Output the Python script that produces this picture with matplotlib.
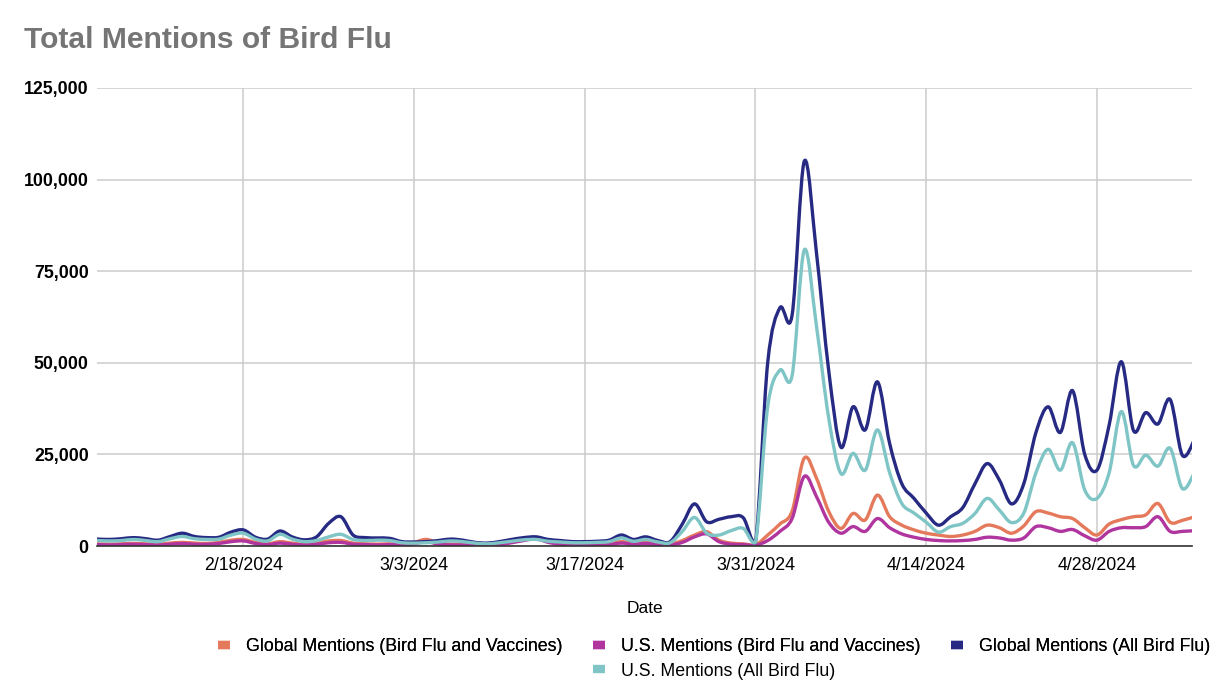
import numpy as np
import pandas as pd
import matplotlib
matplotlib.use("Agg")
import matplotlib.pyplot as plt
import matplotlib.dates as mdates
from matplotlib.path import Path
from matplotlib.patches import PathPatch
from matplotlib.lines import Line2D
from matplotlib.ticker import FuncFormatter

plt.rcParams['font.family'] = ['Liberation Sans', 'DejaVu Sans']

# daily values, 2/6/2024 .. 5/6/2024 (thousands of mentions)
dates = pd.date_range('2024-02-06', '2024-05-06', freq='D')

global_vacc = [0.6, 0.5, 0.6, 0.7, 0.6, 0.5, 0.8, 1.0, 0.8, 0.7,
               1.0, 1.6, 1.8, 1.0, 0.6, 1.2, 0.8, 0.5, 0.8, 1.4,
               1.5, 0.8, 0.6, 0.5, 0.6, 0.5, 1.0, 1.8, 0.8, 0.5,
               0.5, 0.4, 0.4, 0.6, 1.2, 1.8, 2.4, 1.4, 0.8, 0.5,
               0.4, 0.5, 0.6, 1.2, 0.8, 1.0, 0.6, 0.5, 1.5, 3.0,
               3.9, 1.6, 0.8, 0.6, 0.3, 3.0, 6.0, 9.5, 24.0, 18.5,
               9.5, 4.8, 8.9, 7.1, 13.9, 8.0, 5.7, 4.4, 3.5, 3.0,
               2.6, 3.0, 4.0, 5.7, 5.0, 3.5, 5.5, 9.4, 9.0, 8.0,
               7.5, 5.0, 3.0, 6.0, 7.2, 8.0, 8.5, 11.6, 6.5, 7.0,
               8.0]

us_vacc = [0.4, 0.3, 0.4, 0.5, 0.4, 0.3, 0.5, 0.7, 0.5, 0.5,
           0.7, 1.2, 1.4, 0.7, 0.4, 0.8, 0.5, 0.3, 0.5, 0.9,
           1.0, 0.5, 0.4, 0.3, 0.4, 0.3, 0.6, 1.2, 0.5, 0.3,
           0.3, 0.3, 0.3, 0.4, 0.9, 1.5, 2.0, 1.0, 0.5, 0.3,
           0.3, 0.3, 0.4, 0.8, 0.5, 0.7, 0.4, 0.3, 1.0, 2.5,
           3.3, 1.2, 0.5, 0.4, 0.2, 1.5, 4.0, 7.5, 19.0, 13.5,
           6.5, 3.5, 5.3, 4.0, 7.5, 5.0, 3.3, 2.4, 1.8, 1.5,
           1.4, 1.5, 1.8, 2.4, 2.2, 1.6, 2.2, 5.3, 5.0, 4.0,
           4.5, 2.8, 1.6, 4.0, 5.0, 5.0, 5.3, 8.0, 4.0, 4.0,
           4.2]

global_all = [1.9, 1.8, 2.0, 2.3, 2.0, 1.6, 2.6, 3.5, 2.6, 2.3,
              2.4, 3.8, 4.4, 2.4, 1.9, 4.1, 2.5, 1.7, 2.5, 6.2,
              8.0, 3.0, 2.3, 2.2, 2.1, 1.2, 1.1, 1.2, 1.5, 1.9,
              1.6, 1.0, 0.8, 1.2, 1.8, 2.3, 2.5, 1.8, 1.5, 1.2,
              1.2, 1.3, 1.6, 3.0, 1.8, 2.5, 1.5, 1.2, 6.0, 11.5,
              6.6, 7.3, 8.0, 7.7, 1.0, 50.0, 65.0, 63.0, 105.0, 80.0,
              48.0, 27.0, 38.0, 31.7, 44.8, 28.0, 17.0, 13.0, 9.0, 5.7,
              8.0, 10.5, 17.0, 22.5, 18.0, 11.5, 17.0, 31.0, 38.0, 31.0,
              42.4, 25.0, 20.7, 33.0, 50.3, 31.5, 36.4, 33.3, 40.0, 24.8,
              29.0]

us_all = [1.5, 1.4, 1.5, 1.8, 1.5, 1.2, 2.0, 2.6, 2.0, 1.8,
          1.9, 3.0, 3.5, 1.9, 1.4, 3.2, 1.9, 1.2, 1.5, 2.5,
          3.2, 1.8, 1.5, 1.6, 1.5, 0.9, 0.8, 0.9, 1.1, 1.4,
          1.2, 0.8, 0.6, 0.9, 1.3, 1.7, 1.8, 1.3, 1.1, 0.9,
          0.9, 1.0, 1.2, 2.2, 1.3, 1.8, 1.1, 0.9, 4.0, 7.8,
          3.5, 3.0, 4.2, 4.8, 1.0, 38.0, 48.0, 46.5, 80.8, 60.0,
          35.0, 19.8, 25.3, 20.7, 31.7, 20.0, 11.6, 9.0, 6.5, 3.8,
          5.3, 6.2, 8.9, 13.0, 9.8, 6.4, 9.0, 20.0, 26.4, 20.7,
          28.2, 15.3, 13.0, 20.0, 36.7, 22.0, 24.8, 21.8, 26.7, 15.7,
          20.0]

series = [
    ("Global Mentions (Bird Flu and Vaccines)", global_vacc, "#e5795c"),
    ("U.S. Mentions (Bird Flu and Vaccines)", us_vacc, "#b0359f"),
    ("Global Mentions (All Bird Flu)", global_all, "#272a83"),
    ("U.S. Mentions (All Bird Flu)", us_all, "#7fc5c6"),
]

tick_dates = ['2024-02-18', '2024-03-03', '2024-03-17', '2024-03-31', '2024-04-14', '2024-04-28']
tick_labels = ['2/18/2024', '3/3/2024', '3/17/2024', '3/31/2024', '4/14/2024', '4/28/2024']


def smooth_path(x, y):
    # catmull-rom style cubic bezier through every data point
    n = len(x)
    verts = [(x[0], y[0])]
    codes = [Path.MOVETO]
    for i in range(n - 1):
        x0, y0 = (x[i - 1], y[i - 1]) if i > 0 else (x[i], y[i])
        x3, y3 = (x[i + 2], y[i + 2]) if i + 2 < n else (x[i + 1], y[i + 1])
        c1 = (x[i] + (x[i + 1] - x0) / 6, max(0, y[i] + (y[i + 1] - y0) / 6))
        c2 = (x[i + 1] - (x3 - x[i]) / 6, max(0, y[i + 1] - (y3 - y[i]) / 6))
        verts += [c1, c2, (x[i + 1], y[i + 1])]
        codes += [Path.CURVE4] * 3
    return Path(verts, codes)


fig = plt.figure(figsize=(12.23, 6.89), dpi=100)
ax = fig.add_axes([0.0793, 0.2075, 0.8954, 0.6648])

xnum = mdates.date2num(dates)
handles = []
for label, vals, color in series:
    yv = np.array(vals) * 1000
    p = PathPatch(smooth_path(xnum, yv), facecolor='none', edgecolor=color,
                  lw=2.4, joinstyle='round', zorder=3)
    ax.add_patch(p)
    handles.append(Line2D([], [], color=color, lw=6, solid_capstyle='butt', label=label))

ax.set_xlim(xnum[0], xnum[0] + 89.8)
ax.set_ylim(0, 125000)
ax.set_yticks([0, 25000, 50000, 75000, 100000, 125000])
ax.yaxis.set_major_formatter(FuncFormatter(lambda v, p: f"{v:,.0f}"))
ax.set_xticks(mdates.date2num(pd.to_datetime(tick_dates)))
ax.set_xticklabels(tick_labels)

ax.grid(True, color='#cccccc', lw=1.1)
ax.set_axisbelow(True)
for s in ['top', 'right', 'left']:
    ax.spines[s].set_visible(False)
ax.spines['bottom'].set_color('#333333')
ax.spines['bottom'].set_linewidth(1.2)
ax.spines['bottom'].set_zorder(4)
ax.tick_params(axis='both', length=0)
ax.tick_params(axis='y', pad=6, labelsize=12.8)
ax.tick_params(axis='x', pad=8, labelsize=12.8)
for t in ax.get_yticklabels():
    t.set_fontweight('bold')

ax.set_xlabel('Date', fontsize=12.5, labelpad=19)

fig.text(0.02, 0.942, 'Total Mentions of Bird Flu', fontsize=21.6, fontweight='bold',
         color='#757575', va='center', ha='left')

leg_kw = dict(frameon=False, fontsize=12.8, handlelength=0.7, handletextpad=0.9,
              columnspacing=1.7)
leg1 = fig.legend(handles=handles[:3], ncol=3, loc='center',
                  bbox_to_anchor=(0.584, 0.061), **leg_kw)
fig.add_artist(leg1)

# second row sits under the second column of the first row
fig.canvas.draw()
h_ext = leg1.legend_handles[1].get_window_extent()
x_fig = h_ext.x0 / fig.bbox.width
fig.legend(handles=handles[3:], ncol=1, loc='center left', borderpad=0,
           borderaxespad=0, bbox_to_anchor=(x_fig, 0.026), **leg_kw)

fig.savefig('out.png', dpi=100)
